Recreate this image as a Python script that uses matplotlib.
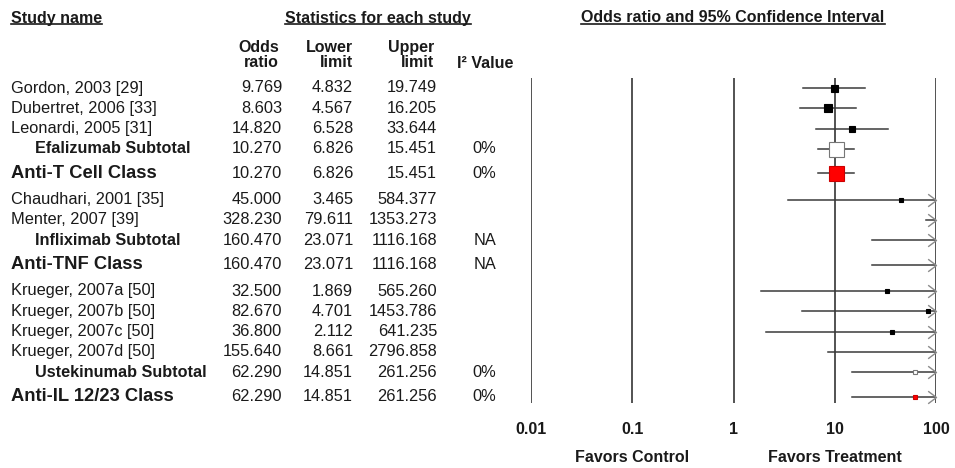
import matplotlib
matplotlib.use("Agg")
import matplotlib.pyplot as plt
import matplotlib.transforms as mtransforms
from matplotlib.lines import Line2D
from matplotlib.path import Path
from matplotlib.ticker import NullLocator

plt.rcParams['font.family'] = ['Liberation Sans', 'DejaVu Sans']

# Table data
names = ["Gordon, 2003 [29]", "Dubertret, 2006 [33]", "Leonardi, 2005 [31]",
         "Efalizumab Subtotal", "Anti-T Cell Class",
         "Chaudhari, 2001 [35]", "Menter, 2007 [39]", "Infliximab Subtotal",
         "Anti-TNF Class",
         "Krueger, 2007a [50]", "Krueger, 2007b [50]", "Krueger, 2007c [50]",
         "Krueger, 2007d [50]", "Ustekinumab Subtotal", "Anti-IL 12/23 Class"]
kinds = ["study", "study", "study", "subtotal", "class",
         "study", "study", "subtotal", "class",
         "study", "study", "study", "study", "subtotal", "class"]
odds = [9.769, 8.603, 14.820, 10.270, 10.270, 45.000, 328.230, 160.470,
        160.470, 32.500, 82.670, 36.800, 155.640, 62.290, 62.290]
lower = [4.832, 4.567, 6.528, 6.826, 6.826, 3.465, 79.611, 23.071,
         23.071, 1.869, 4.701, 2.112, 8.661, 14.851, 14.851]
upper = [19.749, 16.205, 33.644, 15.451, 15.451, 584.377, 1353.273, 1116.168,
         1116.168, 565.260, 1453.786, 641.235, 2796.858, 261.256, 261.256]
i2 = ["", "", "", "0%", "0%", "", "", "NA", "NA", "", "", "", "", "0%", "0%"]
# box size (pixels) as drawn in the figure
box_px = [7, 8, 6, 15, 15, 4, 4, 4, 4, 4.5, 4.5, 5, 4, 4, 3.5]

ticks = [0.01, 0.1, 1, 10, 100]
tick_labels = ["0.01", "0.1", "1", "10", "100"]

W, H = 955, 468
TXT = '#1a1a1a'

# row positions: class rows get a little extra space around them
ypos = []
y = 0
for i, k in enumerate(kinds):
    if i > 0:
        if k == "class":
            y += 1.2
        elif kinds[i - 1] == "class":
            y += 1.3
        else:
            y += 1
    ypos.append(y)

fig = plt.figure(figsize=(W / 100, H / 100), dpi=100)
fig.patch.set_facecolor('white')

row_h = 20.3
ax = fig.add_axes([531 / W, 1 - 403 / H, (936 - 531) / W, (403 - 78) / H])
ax.set_xscale('log')
ax.set_xlim(0.01, 100)
ax.set_ylim((403 - 88) / row_h, -(88 - 78) / row_h)
for s in ax.spines.values():
    s.set_visible(False)
ax.set_yticks([])
ax.xaxis.set_minor_locator(NullLocator())
ax.set_xticks(ticks)
ax.set_xticklabels(tick_labels, fontsize=11.5, fontweight='bold', color=TXT)
ax.tick_params(axis='x', length=0, pad=14)

for t in ticks:
    ax.axvline(t, color='#444444', lw=1.3, zorder=1)

# open chevron for intervals running off the right edge
chevron = Path([(-1, 0.75), (0, 0), (-1, -0.75)],
               [Path.MOVETO, Path.LINETO, Path.LINETO])
xmax = ax.get_xlim()[1]

# confidence intervals and boxes
for i in range(len(names)):
    yy = ypos[i]
    hi = min(upper[i], xmax)
    ax.plot([lower[i], hi], [yy, yy], color='#3a3a3a', lw=1.1, zorder=2)
    if upper[i] > xmax:
        ax.plot([xmax], [yy], marker=chevron, ms=12, mfc='none', mec='#8a8a8a',
                mew=1.0, ls='none', zorder=2, clip_on=False)
    if kinds[i] == "study":
        fc, ec = 'black', 'black'
    elif kinds[i] == "subtotal":
        fc, ec = 'white', '#777777'
    else:
        fc, ec = '#ff0000', '#cc0000'
    ax.plot([odds[i]], [yy], marker='s', ms=box_px[i] * 0.72, mfc=fc, mec=ec,
            mew=0.8, ls='none', zorder=3)

# table text
tr = mtransforms.blended_transform_factory(fig.transFigure, ax.transData)
for i in range(len(names)):
    yy = ypos[i]
    if kinds[i] == "study":
        fs, fw, x0 = 11.8, 'normal', 11
    elif kinds[i] == "subtotal":
        fs, fw, x0 = 11.7, 'bold', 35
    else:
        fs, fw, x0 = 13.2, 'bold', 11
    ax.text(x0 / W, yy, names[i], transform=tr, ha='left', va='center',
            fontsize=fs, fontweight=fw, color=TXT, clip_on=False)
    for val, xr in [(odds[i], 282), (lower[i], 353), (upper[i], 437)]:
        ax.text(xr / W, yy, f"{val:.3f}", transform=tr, ha='right', va='center',
                fontsize=11.8, color=TXT, clip_on=False)
    if i2[i]:
        ax.text(496 / W, yy, i2[i], transform=tr, ha='right', va='center',
                fontsize=11.8, color=TXT, clip_on=False)

# headers
titles = []
titles.append(fig.text(11 / W, 1 - 18 / H, "Study name", ha='left', va='center',
                       fontsize=11.5, fontweight='bold', color=TXT))
titles.append(fig.text(378 / W, 1 - 18 / H, "Statistics for each study", ha='center',
                       va='center', fontsize=11.5, fontweight='bold', color=TXT))
titles.append(fig.text(733 / W, 1 - 18 / H, "Odds ratio and 95% Confidence Interval",
                       ha='center', va='center', fontsize=11.5, fontweight='bold',
                       color=TXT))
for lab, xr in [("Odds\nratio", 279), ("Lower\nlimit", 353), ("Upper\nlimit", 434)]:
    fig.text(xr / W, 1 - 55 / H, lab, ha='right', va='center', multialignment='right',
             fontsize=11.5, fontweight='bold', color=TXT, linespacing=1.05)
fig.text(457 / W, 1 - 63 / H, "I² Value", ha='left', va='center',
         fontsize=11.5, fontweight='bold', color=TXT)

trf = mtransforms.blended_transform_factory(ax.transData, fig.transFigure)
ax.text(0.1, 1 - 458 / H, "Favors Control", transform=trf, ha='center', va='center',
        fontsize=11.5, fontweight='bold', color=TXT, clip_on=False)
ax.text(10, 1 - 458 / H, "Favors Treatment", transform=trf, ha='center', va='center',
        fontsize=11.5, fontweight='bold', color=TXT, clip_on=False)

# underline the section titles
fig.canvas.draw()
inv = fig.transFigure.inverted()
for t in titles:
    bb = t.get_window_extent()
    (x0, y0), (x1, _) = inv.transform([(bb.x0, bb.y0 + 1), (bb.x1, bb.y0 + 1)])
    fig.add_artist(Line2D([x0, x1], [y0, y0], color=TXT, lw=1.2))

fig.savefig("out.png", dpi=100, facecolor='white')
